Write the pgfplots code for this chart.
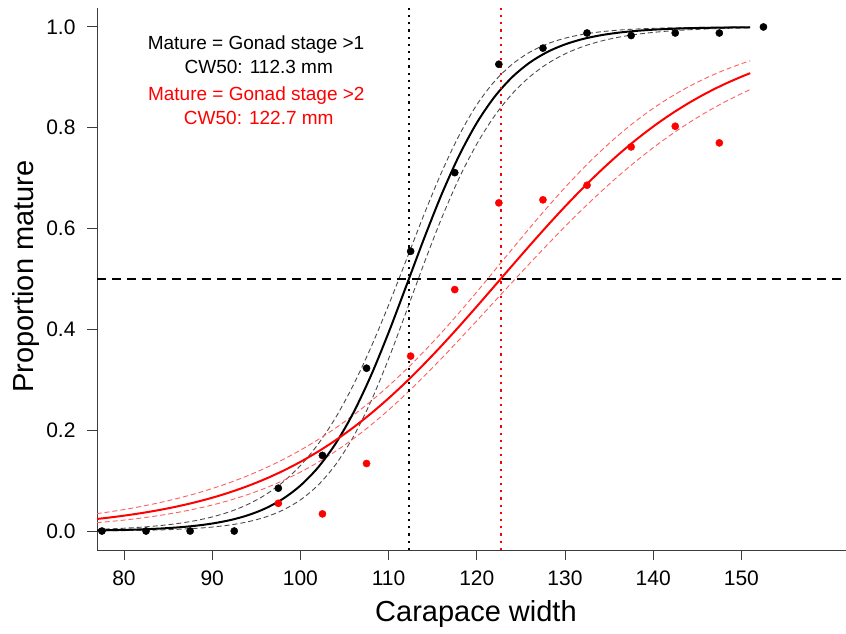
\documentclass[border=0pt]{standalone}
\usepackage{pgfplots}
\pgfplotsset{compat=1.18}
\usepackage{pgfplotstable}
\usepackage{fontspec}
\setmainfont{Liberation Sans}
\definecolor{bandblack}{RGB}{75,75,75}
\definecolor{bandred}{RGB}{255,95,95}
\definecolor{axisgray}{RGB}{60,60,60}

\pgfplotstableread{
x c u l
76 0.001086 0.002914 0.000404
78 0.001581 0.004034 0.000619
80 0.002302 0.005586 0.000947
82 0.003349 0.007722 0.001448
84 0.004869 0.010676 0.002214
86 0.007076 0.014730 0.003385
88 0.010272 0.020313 0.005168
90 0.014891 0.027976 0.007876
92 0.021542 0.038382 0.011997
94 0.031068 0.052549 0.018200
96 0.044616 0.071555 0.027518
98 0.063685 0.096743 0.041406
100 0.090136 0.129774 0.061744
102 0.126087 0.172217 0.090955
104 0.173654 0.225137 0.131928
106 0.234336 0.289454 0.186942
108 0.308312 0.364475 0.257312
110 0.393647 0.448187 0.341646
112 0.486004 0.537430 0.434877
114 0.579324 0.627148 0.529964
116 0.667300 0.711364 0.620106
118 0.744976 0.785159 0.700147
120 0.809683 0.845548 0.767815
122 0.861046 0.891870 0.823169
124 0.900250 0.925800 0.867153
126 0.929294 0.949883 0.901144
128 0.950357 0.966463 0.927094
130 0.965376 0.977729 0.946544
132 0.975966 0.985296 0.960948
134 0.983374 0.990319 0.971585
136 0.988525 0.993638 0.979391
138 0.992092 0.995831 0.985050
140 0.994558 0.997268 0.989185
142 0.996256 0.998212 0.992178
144 0.997426 0.998831 0.994342
146 0.998231 0.999235 0.995914
148 0.998785 0.999500 0.997049
150 0.999166 0.999674 0.997870
151 0.999308 0.999736 0.998188
}\blackfit

\pgfplotstableread{
x c u l
76 0.022254 0.032305 0.015282
78 0.026066 0.037138 0.018233
80 0.030511 0.042667 0.021738
82 0.035684 0.048982 0.025899
84 0.041699 0.056186 0.030826
86 0.048675 0.064382 0.036651
88 0.056749 0.073687 0.043520
90 0.066067 0.084237 0.051600
92 0.076797 0.096158 0.061072
94 0.089103 0.109596 0.072127
96 0.103146 0.124680 0.084972
98 0.119129 0.141571 0.099835
100 0.137202 0.160400 0.116896
102 0.157528 0.181284 0.136366
104 0.180240 0.204390 0.158384
106 0.205433 0.229827 0.183033
108 0.233136 0.257587 0.210349
110 0.263359 0.287834 0.240182
112 0.295887 0.320649 0.272426
114 0.330821 0.355917 0.306626
116 0.367557 0.393480 0.342380
118 0.405948 0.433103 0.379380
120 0.445541 0.474347 0.417093
122 0.485828 0.516569 0.455195
124 0.526300 0.559097 0.493275
126 0.566427 0.601206 0.530986
128 0.605704 0.642205 0.567998
130 0.643666 0.681438 0.604009
132 0.679895 0.718424 0.638754
134 0.714076 0.752819 0.671924
136 0.745987 0.784350 0.703367
138 0.775434 0.812921 0.732925
140 0.802375 0.838541 0.760474
142 0.826815 0.861269 0.785961
144 0.848804 0.881291 0.809372
146 0.868443 0.898774 0.830745
148 0.885890 0.913933 0.850160
150 0.901271 0.927020 0.867689
151 0.908250 0.932862 0.875772
}\redfit

\pgfplotstableread{
x p
77.5 0
82.5 0
87.5 0
92.5 0
97.5 0.085
102.5 0.150
107.5 0.323
112.5 0.555
117.5 0.711
122.5 0.926
127.5 0.958
132.5 0.988
137.5 0.983
142.5 0.988
147.5 0.988
152.5 1.0
}\blackobs

\pgfplotstableread{
x p
97.5 0.055
102.5 0.034
107.5 0.134
112.5 0.347
117.5 0.479
122.5 0.651
127.5 0.657
132.5 0.686
137.5 0.762
142.5 0.803
147.5 0.770
}\redobs

\begin{document}
\begin{tikzpicture}[x=1pt,y=1pt]
\useasboundingbox (0,0) rectangle (846,634);
\begin{axis}[
  at={(97pt,84pt)}, anchor=south west,
  scale only axis, width=749pt, height=542pt,
  xmin=76.94, xmax=161.86, ymin=-0.0376, ymax=1.0376,
  axis x line*=bottom, axis y line*=left,
  axis line style={line width=0.9pt, axisgray},
  xtick={80,90,100,110,120,130,140,150},
  ytick={0,0.2,0.4,0.6,0.8,1},
  tick align=outside, major tick length=10pt,
  tick style={line width=0.9pt, axisgray},
  /pgf/number format/assume math mode=true,
  yticklabel style={/pgf/number format/.cd, fixed, fixed zerofill, precision=1, /tikz/.cd, xshift=-8pt},
  xticklabel style={yshift=-7pt},
  ticklabel style={font=\fontsize{21}{25}\selectfont},
  xlabel={Carapace width},
  xlabel style={at={(axis description cs:0.506,-0.1328)}, anchor=base, font=\fontsize{29}{34}\selectfont},
  ylabel={Proportion mature},
  ylabel style={at={(axis description cs:-0.0854,0.5046)}, anchor=base, rotate=0, font=\fontsize{29}{34}\selectfont},
  clip=true,
]
% confidence bands
\addplot[bandblack, line width=0.9pt, dash pattern=on 5pt off 3pt, smooth] table[x=x,y=u] \blackfit;
\addplot[bandblack, line width=0.9pt, dash pattern=on 5pt off 3pt, smooth] table[x=x,y=l] \blackfit;
\addplot[bandred, line width=0.9pt, dash pattern=on 5pt off 3pt, smooth] table[x=x,y=u] \redfit;
\addplot[bandred, line width=0.9pt, dash pattern=on 5pt off 3pt, smooth] table[x=x,y=l] \redfit;
% fitted curves
\addplot[black, line width=2pt, smooth] table[x=x,y=c] \blackfit;
\addplot[red, line width=2pt, smooth] table[x=x,y=c] \redfit;
% reference lines
\addplot[black, line width=2pt, dash pattern=on 9pt off 6pt] coordinates {(76.94,0.5) (161.86,0.5)};
\addplot[black, line width=2.2pt, dash pattern=on 2.2pt off 5pt] coordinates {(112.3,-0.0376) (112.3,1.0376)};
\addplot[red, line width=2.2pt, dash pattern=on 2.2pt off 5pt] coordinates {(122.7,-0.0376) (122.7,1.0376)};
% observations
\addplot[only marks, mark=*, mark size=3.6pt, red, mark options={draw=red, fill=red}] table[x=x,y=p] \redobs;
\addplot[only marks, mark=*, mark size=3.6pt, black, mark options={draw=black, fill=black}] table[x=x,y=p] \blackobs;
% annotations
\node[anchor=base, font=\fontsize{19}{22}\selectfont, black] at (axis cs:94.97,0.9552) {Mature = Gonad stage >1};
\node[anchor=base, font=\fontsize{19}{22}\selectfont, black] at (axis cs:95.28,0.9069) {CW50: 112.3 mm};
\node[anchor=base, font=\fontsize{19}{22}\selectfont, red] at (axis cs:95.0,0.8535) {Mature = Gonad stage >2};
\node[anchor=base, font=\fontsize{19}{22}\selectfont, red] at (axis cs:95.28,0.8059) {CW50: 122.7 mm};
\end{axis}
\end{tikzpicture}
\end{document}
